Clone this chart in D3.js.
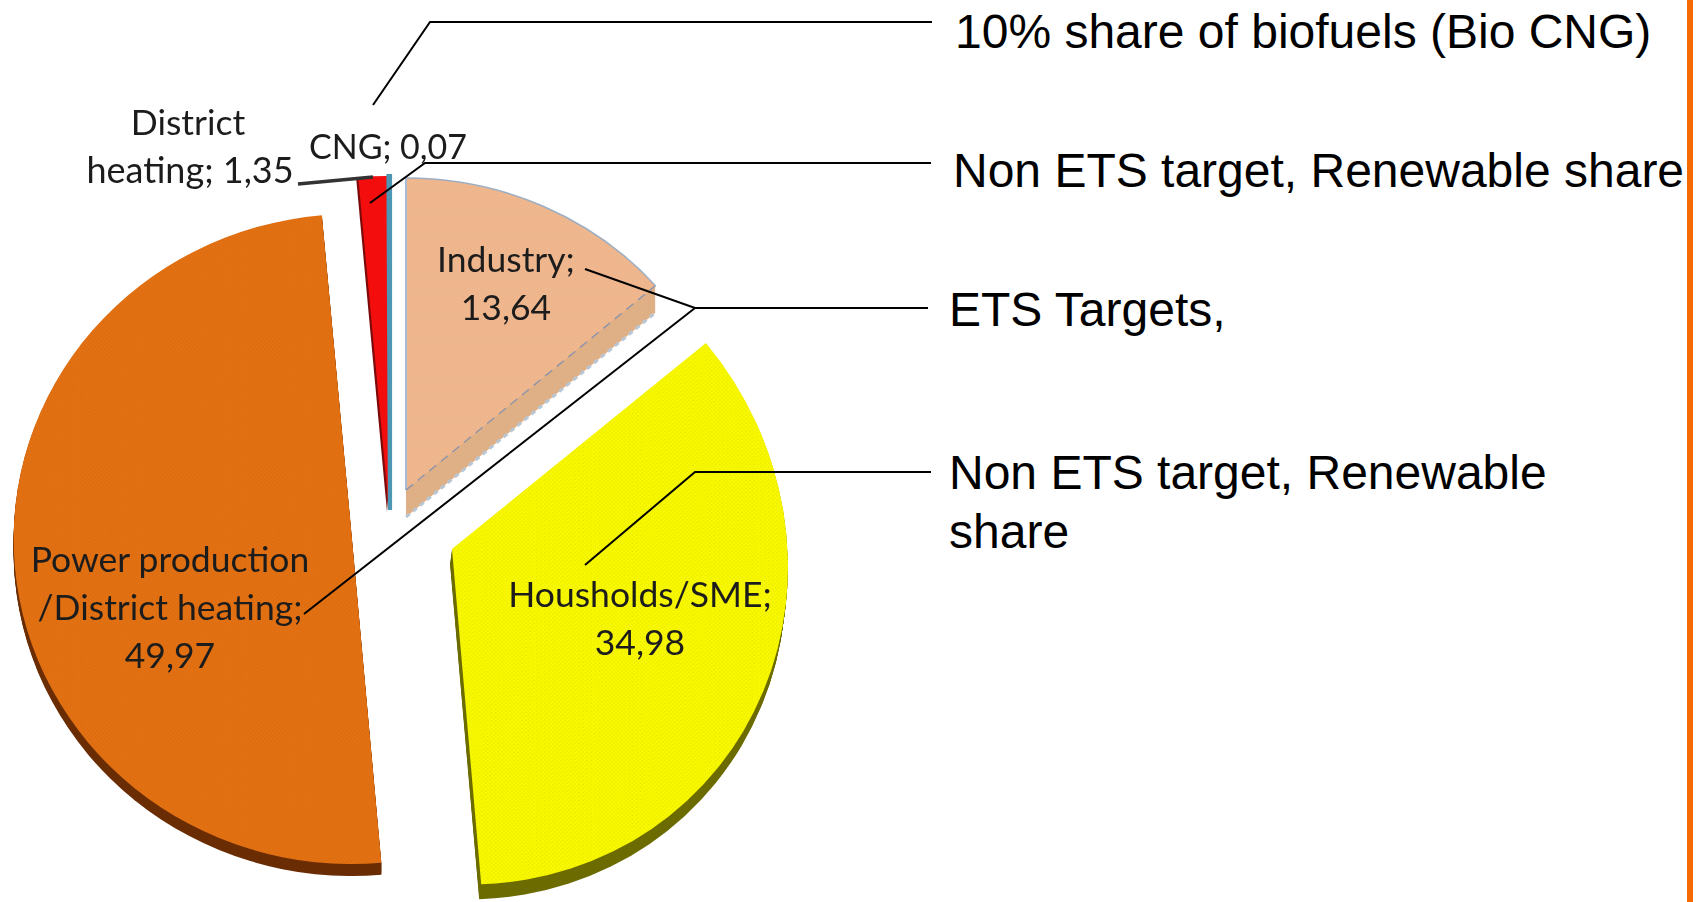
<!DOCTYPE html>
<html><head><meta charset="utf-8">
<script src="https://cdn.jsdelivr.net/npm/d3@7/dist/d3.min.js"></script>
<style>html,body{margin:0;padding:0;background:#fff}svg{display:block}</style>
</head><body><svg id="c" width="1704" height="902"></svg>
<script>
// ---- data (clockwise from 12 o'clock)
const categories = ["Industry", "Households/SME", "Power production/District heating", "District heating", "CNG"];
const values = [13.64, 34.98, 49.97, 1.35, 0.07];
const valueLabels = ["13,64", "34,98", "49,97", "1,35", "0,07"];
const sliceColors = ["#F0B88F", "#F8F800", "#E37112", "#F30D0D", "#4E97B4"];
const wallColors = ["#DFAF86", "#6B6B00", "#6A2C02", "#7C0A0A", "#8FB3C4"];
const stipple = ["#E3A67C", "#D8D800", "#C8600E", "#F30D0D", "#4E97B4"];
const notes = [["10% share of biofuels (Bio CNG)"], ["Non ETS target, Renewable share"], ["ETS Targets,"], ["Non ETS target, Renewable", "share"]];

// ---- layout of the exploded 3D-looking pie
const centreX = [406, 452, 352, 389, 390];
const centreY = [490, 549, 539, 510, 510];
const radiusX = [330, 336, 338, 345, 345];
const radiusY = [312, 335, 325, 334, 334];
const skewDeg = [0, 3, 0, 0, 0];
const wallDepth = [27, 15, 12, 2, 1];
const wallLean = [0, -2, 0, -2, 0];
const R = 330;

const svg = d3.select("#c");
const defs = svg.append("defs");
defs.append("filter").attr("id","soft").append("feGaussianBlur").attr("stdDeviation",0.45);
sliceColors.forEach((c,i)=>{
  const p = defs.append("pattern").attr("id","st"+i).attr("patternUnits","userSpaceOnUse").attr("width",4).attr("height",4);
  p.append("rect").attr("width",4).attr("height",4).attr("fill",c);
  p.append("circle").attr("cx",1).attr("cy",1).attr("r",0.5).attr("fill",stipple[i]);
  p.append("circle").attr("cx",3).attr("cy",3).attr("r",0.5).attr("fill",stipple[i]);
});

const pie = d3.pie().sort(null).startAngle(0).endAngle(2*Math.PI)(values);
const arc = d3.arc().innerRadius(0).outerRadius(R);
const rim = d3.arc().innerRadius(R).outerRadius(R);
const place = (i, dx=0, dy=0) => `translate(${centreX[i]+dx},${centreY[i]+dy}) skewY(${skewDeg[i]}) scale(${radiusX[i]/R},${radiusY[i]/R})`;

const slices = svg.append("g").selectAll("g").data(pie).join("g");
slices.each(function(d,i){
  const g = d3.select(this);
  g.selectAll("path.wall").data(d3.range(1, wallDepth[i]+1)).join("path")
    .attr("class","wall").attr("d", arc(d)).attr("fill", wallColors[i])
    .attr("transform", k => place(i, wallLean[i]*k/wallDepth[i], k));
});
// Industry wall edge and seam
const ind = pie[0];
const seam = d3.pointRadial(ind.endAngle, R);
const indG = svg.append("g");
indG.append("path").attr("d", d3.line()([[0,0],seam])).attr("transform", place(0,0,wallDepth[0]))
  .attr("stroke","#B9C6D4").attr("stroke-width",3).attr("stroke-dasharray","5 4").attr("fill","none").attr("vector-effect","non-scaling-stroke");

slices.append("path").attr("d", arc).attr("fill",(d,i)=>`url(#st${i})`).attr("transform",(d,i)=>place(i));
// CNG is a narrow sliver; outlined so that it stays visible as in the source
slices.filter((d,i)=>i===4).select("path:last-child").attr("stroke",sliceColors[4]).attr("stroke-width",4);

indG.raise();
indG.append("path").attr("d", rim(ind)).attr("transform", place(0))
  .attr("stroke","#9CAEC2").attr("stroke-width",1.6).attr("fill","none").attr("vector-effect","non-scaling-stroke");
indG.append("path").attr("d", d3.line()([[0,0],[0,-R]])).attr("transform", place(0))
  .attr("stroke","#A9BCD3").attr("stroke-width",2).attr("fill","none").attr("vector-effect","non-scaling-stroke");
indG.append("path").attr("d", d3.line()([[0,0],seam])).attr("transform", place(0))
  .attr("stroke","#8D95AA").attr("stroke-width",1.5).attr("stroke-dasharray","9 6").attr("fill","none").attr("vector-effect","non-scaling-stroke");

// ---- leader lines
const leaders = [
  {w:2,c:"#000",p:[[373,105],[430,22],[932,22]]},
  {w:2,c:"#000",p:[[370,203],[425,163],[931,163]]},
  {w:2,c:"#000",p:[[585,269],[695,308],[928,308]]},
  {w:2,c:"#000",p:[[304,614],[695,308]]},
  {w:2,c:"#000",p:[[585,565],[695,472],[931,472]]},
  {w:3.5,c:"#333",p:[[298,184],[373,177]]}
];
svg.append("g").selectAll("path").data(leaders).join("path")
  .attr("d",d=>d3.line()(d.p)).attr("fill","none").attr("stroke",d=>d.c).attr("stroke-width",d=>d.w);

// ---- data labels inside the image
const dl = [
  {x:188,y:135,t:"District",s:35.5},
  {x:190,y:183,t:"heating; "+valueLabels[3],s:36},
  {x:388,y:159,t:"CNG; "+valueLabels[4],s:34},
  {x:506,y:272,t:"Industry;",s:35.5},
  {x:506,y:320,t:valueLabels[0],s:35.5},
  {x:170,y:572,t:"Power production",s:35.5},
  {x:170,y:620,t:"/District heating;",s:35.5},
  {x:170,y:668,t:valueLabels[2],s:35.5},
  {x:640,y:607,t:"Housholds/SME;",s:35.5},
  {x:640,y:655,t:valueLabels[1],s:35.5}
];
svg.append("g").attr("filter","url(#soft)").selectAll("text").data(dl).join("text")
  .attr("x",d=>d.x).attr("y",d=>d.y).attr("text-anchor","middle").attr("fill","#1c1c1c")
  .attr("font-family","Lato, 'Open Sans', sans-serif").attr("font-size",d=>d.s).text(d=>d.t);

// ---- annotations on the right
const notePos = [[955,[48]],[953,[187]],[949,[326]],[949,[489,548]]];
const ng = svg.append("g").attr("font-family","'Liberation Sans', Arial, sans-serif").attr("font-size",48).attr("fill","#000");
notes.forEach((lines,i)=>lines.forEach((t,j)=>{
  ng.append("text").attr("x",notePos[i][0]).attr("y",notePos[i][1][j]).text(t);
}));

// ---- frame stripe at the right
svg.append("rect").attr("x",1687).attr("y",0).attr("width",6).attr("height",902).attr("fill","#F46A00");
</script></body></html>
